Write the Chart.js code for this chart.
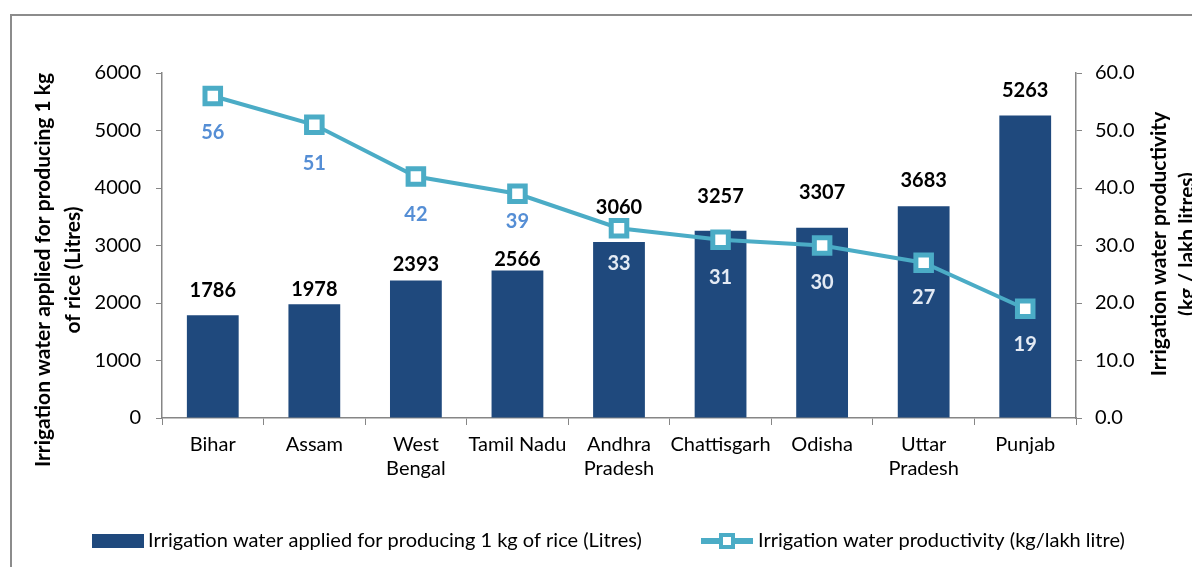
<!DOCTYPE html>
<html>
<head>
<meta charset="utf-8">
<script src="https://cdn.jsdelivr.net/npm/chart.js@4.4.1/dist/chart.umd.min.js"></script>
<style>
  html, body { margin: 0; padding: 0; background: #ffffff; }
  #wrap { width: 1192px; height: 567px; position: relative; }
</style>
</head>
<body>
<div id="wrap"><canvas id="riceChart" width="1192" height="567"></canvas></div>
<script>
// Chart data
const categories = [['Bihar'], ['Assam'], ['West', 'Bengal'], ['Tamil Nadu'], ['Andhra', 'Pradesh'],
    ['Chattisgarh'], ['Odisha'], ['Uttar', 'Pradesh'], ['Punjab']];
const waterApplied = [1786, 1978, 2393, 2566, 3060, 3257, 3307, 3683, 5263];
const waterProductivity = [56, 51, 42, 39, 33, 31, 30, 27, 19];
const leftTicks = [0, 1000, 2000, 3000, 4000, 5000, 6000];
const rightTicks = [0, 10, 20, 30, 40, 50, 60];

const barLabel = 'Irrigation water applied for producing 1 kg of rice (Litres)';
const lineLabel = 'Irrigation water productivity (kg/lakh litre)';
const leftTitle = ['Irrigation water applied for producing 1 kg', 'of rice (Litres)'];
const rightTitle = ['Irrigation water productivity', '(kg / lakh litres)'];

const FONT = "Lato, 'Open Sans', sans-serif";
const BAR_COLOR = '#1F497D';
const LINE_COLOR = '#4BACC6';
const AXIS_COLOR = '#868686';

// labels were nudged by hand in the original, so keep the per-item gaps (px)
const barLabelGap = [25, 15, 16, 11, 35, 34, 35, 26, 25];
const lineLabelGap = [37, 39, 38, 28, 35, 38, 37, 35, 36];

// Draws the frame, axis titles, data labels and legend
const decorations = {
    id: 'decorations',
    afterDraw(chart) {
        const ctx = chart.ctx;
        ctx.save();

        // outer frame (runs past the right and bottom edge)
        ctx.strokeStyle = '#8C8C8C';
        ctx.lineWidth = 2;
        ctx.strokeRect(11, 15, 1300, 700);

        // axis titles
        ctx.fillStyle = '#000';
        ctx.font = 'bold 21px ' + FONT;
        ctx.textAlign = 'center';
        ctx.textBaseline = 'middle';
        [[43, leftTitle[0]], [73, leftTitle[1]]].forEach(function (t) {
            ctx.save();
            ctx.translate(t[0], 270);
            ctx.rotate(-Math.PI / 2);
            ctx.fillText(t[1], 0, 0);
            ctx.restore();
        });
        [[1159, rightTitle[0]], [1187, rightTitle[1]]].forEach(function (t) {
            ctx.save();
            ctx.translate(t[0], 244);
            ctx.rotate(-Math.PI / 2);
            ctx.fillText(t[1], 0, 0);
            ctx.restore();
        });

        // bar value labels
        const barMeta = chart.getDatasetMeta(1);
        ctx.font = 'bold 20px ' + FONT;
        ctx.fillStyle = '#000';
        barMeta.data.forEach(function (bar, i) {
            ctx.fillText(String(waterApplied[i]), bar.x, bar.y - barLabelGap[i]);
        });

        // line value labels
        const lineMeta = chart.getDatasetMeta(0);
        lineMeta.data.forEach(function (pt, i) {
            const ly = pt.y + lineLabelGap[i];
            const inside = ly > barMeta.data[i].y;
            ctx.fillStyle = inside ? '#E3EAF4' : '#558ED5';
            ctx.fillText(String(waterProductivity[i]), pt.x, ly);
        });

        // legend
        const legY = 541;
        ctx.font = '20px ' + FONT;
        ctx.textAlign = 'left';
        ctx.fillStyle = BAR_COLOR;
        ctx.fillRect(92, legY - 7, 52, 14);
        ctx.fillStyle = '#000';
        ctx.fillText(barLabel, 148, legY);

        ctx.strokeStyle = LINE_COLOR;
        ctx.lineWidth = 6;
        ctx.beginPath();
        ctx.moveTo(701, legY);
        ctx.lineTo(753, legY);
        ctx.stroke();
        ctx.fillStyle = '#fff';
        ctx.lineWidth = 4;
        ctx.fillRect(721, legY - 6, 12, 12);
        ctx.strokeRect(721, legY - 6, 12, 12);
        ctx.fillStyle = '#000';
        ctx.fillText(lineLabel, 758, legY);

        ctx.restore();
    }
};

document.addEventListener('DOMContentLoaded', function () {
    const tickFont = { size: 20, family: FONT };

    new Chart(document.getElementById('riceChart'), {
        type: 'bar',
        data: {
            labels: categories,
            datasets: [{
                type: 'line',
                label: lineLabel,
                data: waterProductivity,
                yAxisID: 'y1',
                borderColor: LINE_COLOR,
                borderWidth: 4,
                pointStyle: 'rect',
                pointRadius: 11,
                pointBackgroundColor: '#ffffff',
                pointBorderColor: LINE_COLOR,
                pointBorderWidth: 5,
                tension: 0,
                order: 0
            }, {
                type: 'bar',
                label: barLabel,
                data: waterApplied,
                yAxisID: 'y',
                backgroundColor: BAR_COLOR,
                barPercentage: 0.51,
                categoryPercentage: 1,
                order: 1
            }]
        },
        options: {
            responsive: false,
            animation: false,
            layout: { padding: { top: 73, left: 0, right: 0, bottom: 0 } },
            plugins: {
                legend: { display: false },
                tooltip: { enabled: false }
            },
            scales: {
                x: {
                    offset: true,
                    grid: { offset: true, drawOnChartArea: false, tickLength: 7, color: AXIS_COLOR },
                    border: { color: AXIS_COLOR, width: 1.5 },
                    ticks: { font: { size: 20, family: FONT, lineHeight: 1.2 }, color: '#000', padding: 8, maxRotation: 0, autoSkip: false },
                    afterFit: function (s) { s.height = 567 - 73 - 345; }
                },
                y: {
                    position: 'left',
                    min: leftTicks[0],
                    max: leftTicks[leftTicks.length - 1],
                    afterBuildTicks: function (s) { s.ticks = leftTicks.map(v => ({ value: v })); },
                    grid: { drawOnChartArea: false, tickLength: 6, color: AXIS_COLOR },
                    border: { color: AXIS_COLOR, width: 1.5 },
                    ticks: {
                        font: tickFont, color: '#000', padding: 15,
                        callback: function (v) { return String(v); }
                    },
                    afterFit: function (s) { s.width = 162; }
                },
                y1: {
                    position: 'right',
                    min: rightTicks[0],
                    max: rightTicks[rightTicks.length - 1],
                    afterBuildTicks: function (s) { s.ticks = rightTicks.map(v => ({ value: v })); },
                    grid: { drawOnChartArea: false, tickLength: 6, color: AXIS_COLOR },
                    border: { color: AXIS_COLOR, width: 1.5 },
                    ticks: {
                        font: tickFont, color: '#000', padding: 13,
                        callback: function (v) { return Number(v).toFixed(1); }
                    },
                    afterFit: function (s) { s.width = 1192 - 1076; }
                }
            }
        },
        plugins: [decorations]
    });
});
</script>
</body>
</html>
